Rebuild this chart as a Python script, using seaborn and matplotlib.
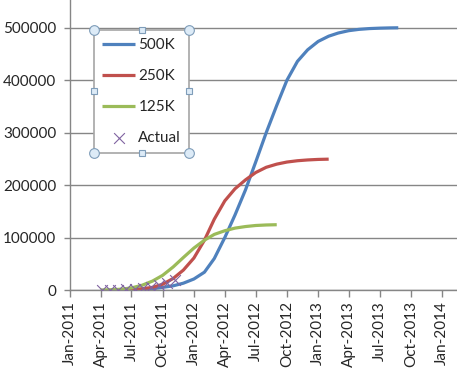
import pandas as pd
import matplotlib
matplotlib.use("Agg")
import matplotlib.pyplot as plt
import matplotlib.dates as mdates
import seaborn as sns

# monthly readings of the three forecast curves (first of each month), last point is where the line stops
dates_500k = list(pd.date_range("2011-06-01", "2013-08-01", freq="MS")) + [pd.Timestamp("2013-08-25")]
vals_500k = [0, 500, 1200, 2500, 5000, 8000, 13000, 21000, 34000, 60000, 100000, 143000, 191000,
             244000, 300000, 352000, 400000, 436000, 458000, 474000, 484000, 490000, 494500,
             497000, 498500, 499300, 499800, 500000]

dates_250k = list(pd.date_range("2011-05-01", "2013-02-01", freq="MS"))
vals_250k = [0, 300, 1000, 2500, 5000, 11000, 22000, 38000, 61000, 95000, 135000, 170000,
             193000, 210000, 224000, 234000, 240000, 244000, 246500, 248000, 249000, 249500]

dates_125k = list(pd.date_range("2011-04-01", "2012-09-01", freq="MS"))
vals_125k = [0, 500, 1500, 4000, 9000, 17000, 28000, 44000, 62000, 80000, 95000, 106000,
             113000, 118000, 121000, 123000, 124000, 124500]

dates_actual = pd.to_datetime(["2011-04-05", "2011-04-29", "2011-05-23", "2011-06-16", "2011-07-10",
                               "2011-08-03", "2011-08-27", "2011-09-20", "2011-10-14", "2011-11-07"])
vals_actual = [0, 0, 500, 1000, 2000, 3500, 6000, 9500, 14000, 20000]

BLUE, RED, GREEN, PURPLE = "#4F81BD", "#C0504D", "#9BBB59", "#8064A2"
GRID = "#868686"

sns.set_style("white")
plt.rcParams["font.family"] = ["Lato", "DejaVu Sans"]

fig = plt.figure(figsize=(4.57, 3.87), dpi=100)
ax = fig.add_axes([70 / 457, 97 / 387, 387 / 457, 290 / 387])

line_kw = dict(linewidth=2.3, solid_joinstyle="round", solid_capstyle="butt")
sns.lineplot(x=dates_500k, y=vals_500k, color=BLUE, label="500K", ax=ax, **line_kw)
sns.lineplot(x=dates_250k, y=vals_250k, color=RED, label="250K", ax=ax, **line_kw)
sns.lineplot(x=dates_125k, y=vals_125k, color=GREEN, label="125K", ax=ax, **line_kw)
sns.scatterplot(x=dates_actual, y=vals_actual, marker="x", s=60, color=PURPLE,
                linewidth=0.8, label="Actual", ax=ax, zorder=4)

ax.set_xlim(pd.Timestamp("2011-01-01"), pd.Timestamp("2014-02-14"))
ax.set_ylim(0, 553000)
ax.set_yticks([0, 100000, 200000, 300000, 400000, 500000])
ax.yaxis.set_major_formatter(matplotlib.ticker.FuncFormatter(lambda v, p: f"{int(v)}"))
ax.xaxis.set_major_locator(mdates.MonthLocator(bymonth=[1, 4, 7, 10]))
ax.xaxis.set_major_formatter(mdates.DateFormatter("%b-%Y"))

ax.grid(axis="y", color=GRID, linewidth=1.0)
ax.grid(axis="x", visible=False)
for s in ["top", "right"]:
    ax.spines[s].set_visible(False)
for s in ["left", "bottom"]:
    ax.spines[s].set_color(GRID)
    ax.spines[s].set_linewidth(1.0)

ax.tick_params(axis="y", left=True, length=4, width=1, color=GRID, pad=6, labelsize=11)
ax.tick_params(axis="x", bottom=True, length=5, width=1, color=GRID, pad=3, labelsize=11,
               labelrotation=90)
ax.set_xlabel("")
ax.set_ylabel("")

leg = ax.legend(loc="upper left", bbox_to_anchor=(0.062, 0.897), fontsize=11,
                frameon=True, fancybox=False, framealpha=1, edgecolor="#A6A6A6",
                handlelength=2.15, handletextpad=0.2, labelspacing=1.1,
                borderpad=0.55, borderaxespad=0)
leg.get_frame().set_linewidth(1.2)

# selection handles around the legend box
fig.canvas.draw()
bb = leg.get_window_extent().transformed(ax.transAxes.inverted())
xs = [bb.x0, (bb.x0 + bb.x1) / 2, bb.x1]
ys = [bb.y0, (bb.y0 + bb.y1) / 2, bb.y1]
for i, x in enumerate(xs):
    for j, y in enumerate(ys):
        if i == 1 and j == 1:
            continue
        corner = i != 1 and j != 1
        ax.plot(x, y, marker="o" if corner else "s", markersize=7 if corner else 5,
                markerfacecolor="#DDEBF7", markeredgecolor="#7F9DB9", markeredgewidth=0.8,
                transform=ax.transAxes, clip_on=False, zorder=10)

fig.savefig("out.png", dpi=100)
